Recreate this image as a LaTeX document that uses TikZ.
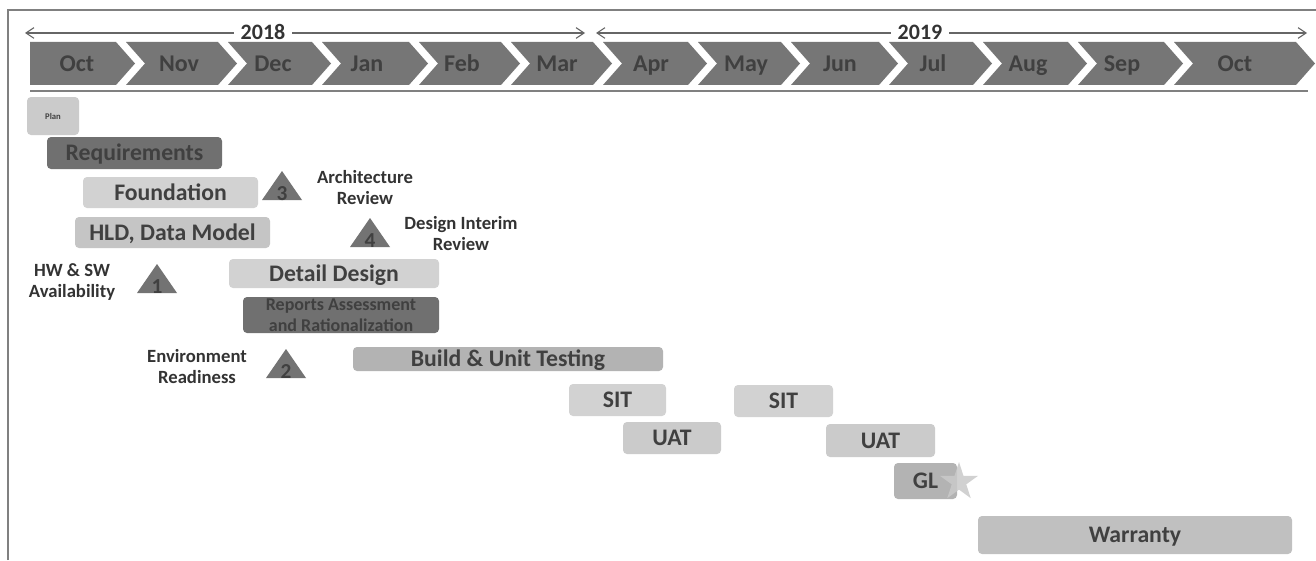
\documentclass[tikz,border=0pt]{standalone}
\usepackage{fontspec}
\setmainfont{Carlito}
\usetikzlibrary{arrows.meta}
\definecolor{chev}{HTML}{767676}
\definecolor{txtd}{HTML}{404040}
\definecolor{lbl}{HTML}{333333}
\definecolor{frame}{HTML}{808080}
\definecolor{dark}{HTML}{707070}
\definecolor{lightA}{HTML}{D2D2D2}
\definecolor{lightB}{HTML}{C5C5C5}
\definecolor{lightC}{HTML}{CBCBCB}
\definecolor{midA}{HTML}{B3B3B3}
\definecolor{midB}{HTML}{C0C0C0}
\definecolor{trif}{HTML}{737373}
\definecolor{starf}{HTML}{CACACA}
\tikzset{
  monthtxt/.style={text=txtd, font=\fontsize{18}{21}\selectfont\bfseries, inner sep=0pt, text height=11.6pt, text depth=0pt},
  yearlbl/.style={fill=white, text=lbl, font=\fontsize{16.5}{19}\selectfont\bfseries, inner xsep=5pt, inner ysep=1pt},
  yeararrow/.style={draw=black!60, line width=0.8pt, {Straight Barb[length=6pt,width=8pt]}-{Straight Barb[length=6pt,width=8pt]}},
  bartxt/.style={text=txtd, font=\fontsize{17.8}{21}\selectfont\bfseries, inner sep=0pt, text height=11.5pt, text depth=0pt},
  tritxt/.style={text=txtd, font=\fontsize{16}{18}\selectfont\bfseries, inner sep=0pt, text height=10.3pt, text depth=0pt},
  mslbl/.style={text=lbl, font=\fontsize{14}{15.75}\selectfont\bfseries, inner sep=0pt, align=center},
}
\newcommand\gbar[7]{\fill[rounded corners=3pt,fill=#5] (#1,#2) rectangle (#3,#4);
  \node[bartxt] (#6) at ({(#1+#3)/2},{(#2+#4)/2}) {#7};}
\newcommand\mstri[4]{\fill[trif] (#1-20,#2) -- (#1,#2-29) -- (#1+20,#2) -- cycle;
  \node[tritxt] (#3) at (#1,#2-6.5) {#4};}
\begin{document}
\begin{tikzpicture}[x=0.75pt,y=-0.75pt]
\useasboundingbox (0,0) rectangle (1316,560);
\fill[white] (0,0) rectangle (1316,560);
% frame
\draw[frame, line width=1.5pt] (8,560) -- (8,10) -- (1316,10);
% year arrows
\coordinate (a18l) at (25,33);
\coordinate (a18r) at (585,33);
\coordinate (a19l) at (596,33);
\coordinate (a19r) at (1307,33);
\draw[yeararrow] (a18l) -- (a18r);
\draw[yeararrow] (a19l) -- (a19r);
\node[yearlbl] (y18) at (263,32) {2018};
\node[yearlbl] (y19) at (920,32) {2019};
% chevrons
\fill[chev] (30,42) -- (116,42) -- (135,63.5) -- (116,85) -- (30,85) -- cycle;
\node[monthtxt] (m1) at (77,63.5) {Oct};
\foreach \l/\t/\cx/\m/\n in {126/237/179/Nov/2, 228/331/273/Dec/3, 322/428/367/Jan/4,
  419/520/462/Feb/5, 511/612/557/Mar/6, 603/707/651/Apr/7, 698/800/746/May/8,
  791/898/840/Jun/9, 889/992/933/Jul/10, 983/1087/1028/Aug/11, 1078/1183/1122/Sep/12,
  1174/1315/1235/Oct/13}{
  \fill[chev] (\l,42) -- (\t-19,42) -- (\t,63.5) -- (\t-19,85) -- (\l,85) -- (\l+19,63.5) -- cycle;
  \node[monthtxt] (m\n) at (\cx,63.5) {\m};
}
\draw[frame, line width=1.2pt] (30,91) -- (1308,91);
% bars
\fill[rounded corners=3pt,fill=lightC] (27,97) rectangle (79,135);
\node[text=txtd, font=\fontsize{6.5}{7}\selectfont\bfseries, inner sep=0pt] (plan) at (53,116) {Plan};
\gbar{47}{137}{222}{169}{dark}{req}{Requirements}
\gbar{83}{177}{258}{208}{lightA}{found}{Foundation}
\gbar{75}{217}{270}{248}{lightB}{hld}{HLD, Data Model}
\gbar{229}{259}{439}{288}{lightA}{detail}{Detail Design}
\fill[rounded corners=3pt,fill=dark] (243,297) rectangle (439,333);
\node[text=txtd, font=\fontsize{13.5}{15.5}\selectfont\bfseries, inner sep=0pt, align=center] (rep) at (341,315) {Reports Assessment\\and Rationalization};
\gbar{353}{347}{663}{371}{midA}{build}{Build \& Unit Testing}
\gbar{569}{384}{666}{416}{lightA}{sit1}{SIT}
\gbar{734}{385}{833}{417}{lightA}{sit2}{SIT}
\gbar{623}{422}{721}{454}{lightC}{uat1}{UAT}
\gbar{826}{424}{935}{457}{lightC}{uat2}{UAT}
\gbar{894}{463}{957}{499}{midA}{gl}{GL}
\gbar{978}{516}{1292}{554}{midB}{warr}{Warranty}
% star
\begin{scope}[shift={(959,482)}]
\fill[starf, opacity=0.85] (270:20) -- (306:7.6) -- (342:20) -- (18:7.6) -- (54:20) -- (90:7.6) -- (126:20) -- (162:7.6) -- (198:20) -- (234:7.6) -- cycle;
\end{scope}
% milestones
\mstri{157}{293}{t1}{1}
\mstri{286}{378}{t2}{2}
\mstri{282}{200}{t3}{3}
\mstri{370}{247}{t4}{4}
\node[mslbl] (l1) at (72,282.5) {HW \& SW\\Availability};
\node[mslbl] (l2) at (197,367) {Environment\\Readiness};
\node[mslbl] (l3) at (365,187.5) {Architecture\\Review};
\node[mslbl] (l4) at (461,234) {Design Interim\\Review};
\end{tikzpicture}
\end{document}
